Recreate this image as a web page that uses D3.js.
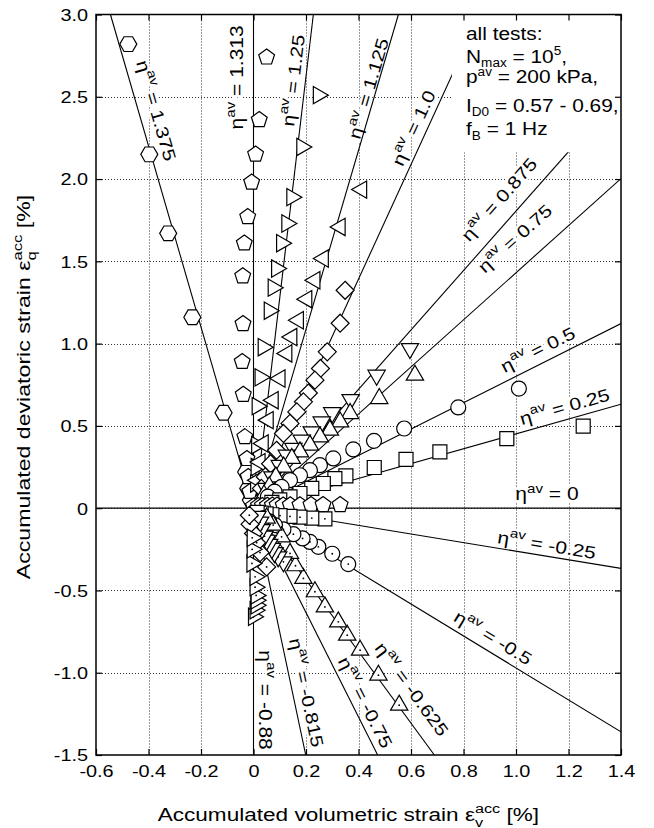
<!DOCTYPE html>
<html><head><meta charset="utf-8">
<script src="https://cdn.jsdelivr.net/npm/d3@7"></script>
<style>
html,body{margin:0;padding:0;background:#fff;}
svg{display:block;font-family:"Liberation Sans",Arial,Helvetica,sans-serif;}
</style></head><body>
<svg id="chart" width="654" height="828"></svg>
<script>
// ---- axis ticks ----
const xTicks = [-0.6,-0.4,-0.2,0,0.2,0.4,0.6,0.8,1.0,1.2,1.4];
const xTickLabels = ["-0.6","-0.4","-0.2","0","0.2","0.4","0.6","0.8","1.0","1.2","1.4"];
const yTicks = [-1.5,-1.0,-0.5,0,0.5,1.0,1.5,2.0,2.5,3.0];
const yTickLabels = ["-1.5","-1.0","-0.5","0","0.5","1.0","1.5","2.0","2.5","3.0"];

// ---- measured strain paths (eps_v, eps_q) in % for each average stress ratio ----
const pts_p1375 = [[-0.477,2.82],[-0.397,2.15],[-0.325,1.67],[-0.233,1.16],[-0.114,0.58],[-0.028,0.22],[-0.02,0.12],[-0.01,0.05]];
const pts_p1313 = [[0.05,2.74],[0.022,2.36],[0.008,2.15],[-0.007,1.98],[-0.022,1.77],[-0.035,1.61],[-0.041,1.41],[-0.04,1.12],[-0.043,0.89],[-0.039,0.69],[-0.033,0.433],[-0.025,0.3],[-0.02,0.19],[-0.014,0.1]];
const pts_p125  = [[0.247,2.51],[0.184,2.195],[0.146,1.89],[0.127,1.73],[0.107,1.61],[0.088,1.456],[0.075,1.34],[0.06,1.2],[0.037,0.978],[0.025,0.795],[0.014,0.62],[0.012,0.383],[0.01,0.25],[0.008,0.15]];
const pts_p1125 = [[0.412,1.936],[0.33,1.709],[0.266,1.517],[0.234,1.385],[0.203,1.27],[0.171,1.142],[0.146,1.04],[0.127,0.94],[0.101,0.788],[0.075,0.656],[0.056,0.535],[0.037,0.393],[0.025,0.28],[0.015,0.17]];
const pts_p100  = [[0.349,1.324],[0.33,1.124],[0.281,0.95],[0.255,0.849],[0.234,0.778],[0.209,0.70],[0.19,0.646],[0.165,0.585],[0.139,0.515],[0.114,0.454],[0.088,0.352],[0.065,0.27],[0.045,0.19],[0.03,0.12]];
const pts_p0875 = [[0.596,0.97],[0.469,0.808],[0.37,0.66],[0.30,0.58],[0.26,0.524],[0.222,0.464],[0.184,0.413],[0.152,0.363],[0.127,0.322],[0.1,0.26],[0.072,0.19],[0.048,0.12]];
const pts_p075  = [[0.615,0.808],[0.479,0.666],[0.368,0.575],[0.33,0.524],[0.291,0.474],[0.253,0.433],[0.215,0.383],[0.177,0.342],[0.146,0.302],[0.115,0.25],[0.085,0.19],[0.06,0.13],[0.04,0.08]];
const pts_p050  = [[1.011,0.727],[0.78,0.612],[0.574,0.484],[0.459,0.409],[0.38,0.357],[0.304,0.302],[0.253,0.261],[0.215,0.231],[0.177,0.2],[0.139,0.17],[0.107,0.129],[0.08,0.1],[0.055,0.07]];
const pts_p025  = [[1.256,0.498],[0.965,0.423],[0.71,0.342],[0.581,0.296],[0.46,0.247],[0.352,0.196],[0.31,0.18],[0.266,0.15],[0.222,0.12],[0.177,0.089],[0.139,0.069],[0.1,0.05],[0.07,0.035]];
const pts_0     = [[0.0,0.012],[0.019,0.014],[0.034,0.015],[0.053,0.016],[0.072,0.017],[0.09,0.018],[0.113,0.018],[0.14,0.019],[0.177,0.019],[0.219,0.02],[0.265,0.02],[0.33,0.02]];
const pts_n025  = [[0.272,-0.065],[0.222,-0.06],[0.177,-0.055],[0.139,-0.05],[0.101,-0.045],[0.07,-0.04],[0.048,-0.035],[0.029,-0.03],[0.014,-0.025]];
const pts_n050  = [[0.361,-0.34],[0.30,-0.277],[0.247,-0.235],[0.215,-0.205],[0.187,-0.184],[0.152,-0.158],[0.114,-0.129],[0.082,-0.103],[0.06,-0.08],[0.04,-0.06]];
const pts_n0625 = [[0.555,-1.197],[0.476,-1.015],[0.406,-0.863],[0.357,-0.772],[0.323,-0.691],[0.272,-0.6],[0.234,-0.508],[0.19,-0.427],[0.16,-0.35],[0.139,-0.275],[0.107,-0.174],[0.075,-0.103],[0.05,-0.06]];
const pts_n075  = [[0.114,-0.326],[0.094,-0.296],[0.08,-0.27],[0.07,-0.245],[0.06,-0.22],[0.05,-0.195],[0.042,-0.17],[0.031,-0.13],[0.025,-0.085],[0.015,-0.05]];
const pts_n0815 = [[0.05,-0.357],[0.025,-0.27],[0.012,-0.21],[0.0,-0.154],[-0.013,-0.097],[-0.016,-0.043]];
const pts_n088  = [[0.0,-0.66],[0.006,-0.62],[0.01,-0.59],[0.01,-0.56],[0.01,-0.53],[0.006,-0.48],[0.006,-0.417],[-0.006,-0.336],[-0.005,-0.25],[-0.005,-0.18]];

// ---- series definitions ----
const etaLabels   = ["1.375","1.313","1.25","1.125","1.0","0.875","0.75","0.5","0.25","0","-0.25","-0.5","-0.625","-0.75","-0.815","-0.88"];
const seriesPoints = [pts_p1375,pts_p1313,pts_p125,pts_p1125,pts_p100,pts_p0875,pts_p075,pts_p050,pts_p025,pts_0,pts_n025,pts_n050,pts_n0625,pts_n075,pts_n0815,pts_n088];
const markerShapes = ["hexagon","pentagon","triRight","triLeft","diamond","triDown","triUp","circle","square","pentagon","square","circle","triUp","triDown","diamond","triRight"];
const extensionTest = [false,false,false,false,false,false,false,false,false,false,true,true,true,true,true,true];

// fitted flow-rule lines: start and end (eps_v, eps_q)
const lineStart = [[0,0],[0,0],[0.005,0],[0,0],[0,0],[0,0],[0,0],[0,0],[0,0],[-0.6,0],[0,0],[0,0],[0,0],[0,0],[0,0],[0,0]];
const lineEnd   = [[-0.545,3.0],[0,3.0],[0.228,3.0],[0.552,3.0],[0.862,3.0],[1.4,2.527],[1.4,2.003],[1.4,1.122],[1.4,0.632],[1.4,0],[1.4,-0.366],[1.4,-1.359],[0.689,-1.5],[0.473,-1.5],[0.199,-1.5],[0,-1.5]];

// label centres (eps_v, eps_q)
const labelAt = [[-0.364,2.42],[-0.07,2.618],[0.145,2.6],[0.432,2.553],[0.604,2.315],[0.931,1.883],[0.992,1.646],[1.08,0.972],[1.183,0.626],[1.118,0.095],[1.118,-0.213],[0.916,-0.778],[0.608,-1.094],[0.432,-1.176],[0.208,-1.118],[0.05,-1.166]];

// test conditions note
const noteLines = [
  [["all tests:",""]],
  [["N",""],["max","sub"],[" = 10",""],["5","sup"],[",",""]],
  [["p",""],["av","sup"],[" = 200 kPa,",""]],
  [["I",""],["D0","sub"],[" = 0.57 - 0.69,",""]],
  [["f",""],["B","sub"],[" = 1 Hz",""]]
];

// ---- layout ----
const svg = d3.select("#chart");
const x = d3.scaleLinear().domain([-0.6,1.4]).range([96,621]);
const y = d3.scaleLinear().domain([-1.5,3.0]).range([755,14.5]);
const SX = 1.2; // horizontal glyph stretch of the typeface

svg.append("defs").append("clipPath").attr("id","plotClip")
  .append("rect").attr("x",x(-0.6)).attr("y",y(3)).attr("width",x(1.4)-x(-0.6)).attr("height",y(-1.5)-y(3));

// grid
const grid = svg.append("g").attr("stroke","#333").attr("stroke-width",1).attr("stroke-dasharray","1,2");
grid.selectAll("line.gx").data(xTicks.slice(1,-1)).join("line")
  .attr("x1",d=>Math.round(x(d))+0.5).attr("x2",d=>Math.round(x(d))+0.5).attr("y1",y(3)).attr("y2",y(-1.5));
grid.selectAll("line.gy").data(yTicks.slice(1,-1)).join("line")
  .attr("y1",d=>Math.round(y(d))+0.5).attr("y2",d=>Math.round(y(d))+0.5).attr("x1",x(-0.6)).attr("x2",x(1.4));

// eta labels with a white halo that breaks the grid
function etaText(sel, value, size) {
  sel.append("tspan").text("η");
  sel.append("tspan").attr("font-size",size*0.72).attr("dy",-size*0.45).text("av");
  sel.append("tspan").attr("dy",size*0.45).text(" = " + value);
}
const lab = svg.append("g").attr("font-size",17.5);
etaLabels.forEach((v,i)=>{
  const p0 = [x(lineStart[i][0]), y(lineStart[i][1])];
  const p1 = [x(lineEnd[i][0]), y(lineEnd[i][1])];
  let dx = p1[0]-p0[0], dy = p1[1]-p0[1];
  if (dx < 0) { dx = -dx; dy = -dy; }
  const ang = Math.atan2(dy, dx) * 180 / Math.PI;
  const g = lab.append("g").attr("transform",`translate(${x(labelAt[i][0])},${y(labelAt[i][1])}) rotate(${ang}) scale(${SX},1)`);
  const halo = g.append("text").attr("text-anchor","middle").attr("dy","0.45em")
    .attr("fill","none").attr("stroke","#fff").attr("stroke-width",5).attr("stroke-linejoin","round");
  etaText(halo, v, 17.5);
  const t = g.append("text").attr("text-anchor","middle").attr("dy","0.45em").attr("fill","#000");
  etaText(t, v, 17.5);
});

// fitted lines
svg.append("g").attr("clip-path","url(#plotClip)")
  .selectAll("line").data(etaLabels.map((v,i)=>i)).join("line")
  .attr("x1",i=>x(lineStart[i][0])).attr("y1",i=>y(lineStart[i][1]))
  .attr("x2",i=>x(lineEnd[i][0])).attr("y2",i=>y(lineEnd[i][1]))
  .attr("stroke","#000").attr("stroke-width",1.1);

// marker shapes
function poly(n, r, a0) {
  const pts = d3.range(n).map(k=>{
    const a = (a0 + k*360/n) * Math.PI/180;
    return [r*Math.cos(a), r*Math.sin(a)];
  });
  return "M" + pts.map(p=>p[0].toFixed(2)+","+p[1].toFixed(2)).join("L") + "Z";
}
const shapePath = {
  hexagon: poly(6, 8.5, 0),
  pentagon: poly(5, 8.3, -90),
  triUp: poly(3, 10, -90),
  triDown: poly(3, 10, 90),
  triRight: poly(3, 10, 0),
  triLeft: poly(3, 10, 180),
  diamond: poly(4, 9, -90),
  square: poly(4, 9.9, 45)
};
const mk = svg.append("g").attr("clip-path","url(#plotClip)");
seriesPoints.forEach((pts,i)=>{
  const g = mk.append("g");
  const shape = markerShapes[i];
  const sel = g.selectAll("g").data(pts).join("g")
    .attr("transform",d=>`translate(${x(d[0])},${y(d[1])})`);
  if (shape === "circle") {
    sel.append("circle").attr("r",7.5);
  } else {
    sel.append("path").attr("d",shapePath[shape]);
  }
  sel.selectAll("circle,path").attr("fill","#fff").attr("stroke","#000").attr("stroke-width",1.2);
  if (extensionTest[i]) sel.append("circle").attr("r",0.9).attr("fill","#000");
});

// note box
const boxX0 = x(0.756), boxY1 = y(2.163);
svg.append("rect").attr("x",boxX0).attr("y",y(3)).attr("width",x(1.4)-boxX0).attr("height",boxY1-y(3)).attr("fill","#fff");
const noteBase = [40, 62.5, 83, 111.7, 135];
noteLines.forEach((parts,li)=>{
  const t = svg.append("text").attr("font-size",18.5).attr("fill","#000")
    .attr("transform",`translate(466,${noteBase[li]}) scale(1.13,1)`);
  let shift = 0;
  parts.forEach(([s,kind])=>{
    const sp = t.append("tspan").text(s);
    let target = 0;
    if (kind==="sub") { target = 4.5; sp.attr("font-size",12); }
    if (kind==="sup") { target = -7.5; sp.attr("font-size",12); }
    sp.attr("dy", target - shift);
    shift = target;
  });
});

// axes with inward ticks
const ax = svg.append("g");
const xb = ax.append("g").attr("transform",`translate(0,${y(-1.5)})`)
  .call(d3.axisBottom(x).tickValues(xTicks).tickFormat((d,i)=>xTickLabels[i]).tickSizeInner(-6).tickSizeOuter(0).tickPadding(10));
const yl = ax.append("g").attr("transform",`translate(${x(-0.6)},0)`)
  .call(d3.axisLeft(y).tickValues(yTicks).tickFormat((d,i)=>yTickLabels[i]).tickSizeInner(-6).tickSizeOuter(0).tickPadding(6.5));
ax.append("g").attr("transform",`translate(0,${y(3)})`)
  .call(d3.axisTop(x).tickValues(xTicks).tickFormat("").tickSizeInner(-6).tickSizeOuter(0));
ax.append("g").attr("transform",`translate(${x(1.4)},0)`)
  .call(d3.axisRight(y).tickValues(yTicks).tickFormat("").tickSizeInner(-6).tickSizeOuter(0));
ax.selectAll(".domain").remove();
ax.selectAll(".tick line").attr("stroke","#000").attr("stroke-width",1.2);
ax.selectAll("g").attr("font-size",16.3).attr("font-family",'"Liberation Sans",Arial,sans-serif');
ax.selectAll(".tick text").attr("fill","#000").attr("transform",`scale(1.22,1)`);
yl.selectAll(".tick text").attr("dy","0.36em");

// frame
svg.append("rect").attr("x",x(-0.6)).attr("y",y(3)).attr("width",x(1.4)-x(-0.6)).attr("height",y(-1.5)-y(3))
  .attr("fill","none").attr("stroke","#000").attr("stroke-width",1.5);

// axis titles with stacked super/subscript on epsilon
function strainTitle(parent, lead, sub, size) {
  const t = parent.append("text").attr("font-size",size).attr("fill","#000");
  t.append("tspan").text(lead);
  const sup = t.append("tspan").attr("font-size",size*0.72).attr("dy",-size*0.42).text("acc");
  const wSup = sup.node().getComputedTextLength();
  const sb = t.append("tspan").attr("font-size",size*0.72).attr("dx",-wSup).attr("dy",size*0.72).text(sub);
  const wSub = sb.node().getComputedTextLength();
  t.append("tspan").attr("dx",wSup-wSub).attr("dy",-size*0.30).text(" [%]");
  return t;
}
const xtG = svg.append("g");
const xt = strainTitle(xtG, "Accumulated volumetric strain ε", "v", 18.5);
const wx = xt.node().getBBox().width;
xtG.attr("transform",`translate(${348.5 - wx*1.22/2},821) scale(1.22,1)`);

const ytG = svg.append("g");
const yt = strainTitle(ytG, "Accumulated deviatoric strain ε", "q", 18.5);
const wy = yt.node().getBBox().width;
ytG.attr("transform",`translate(30,${387 + wy*1.25/2}) rotate(-90) scale(1.25,1)`);
</script>
</body></html>
